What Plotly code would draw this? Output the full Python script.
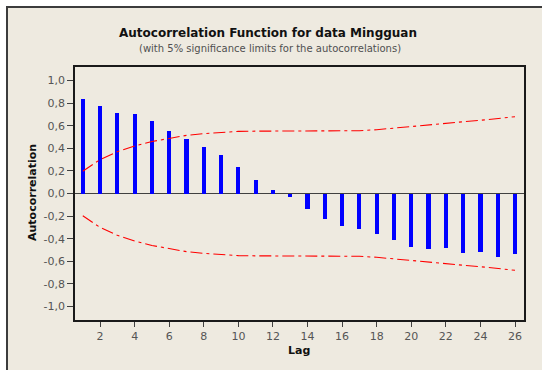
import plotly.graph_objects as go

# ---- data ----
lags = list(range(1, 27))
acf = [0.84, 0.773, 0.717, 0.70, 0.64, 0.549, 0.48, 0.41, 0.345, 0.239, 0.12, 0.03,
       -0.03, -0.133, -0.225, -0.29, -0.316, -0.357, -0.41, -0.475, -0.493, -0.484,
       -0.525, -0.517, -0.56, -0.534]
upper_limit = [0.197, 0.30, 0.37, 0.42, 0.46, 0.49, 0.515, 0.53, 0.54, 0.55, 0.552, 0.553,
               0.553, 0.553, 0.554, 0.555, 0.556, 0.565, 0.58, 0.595, 0.61, 0.625,
               0.635, 0.648, 0.662, 0.68]
lower_limit = [-v for v in upper_limit]

x_tickvals = [2, 4, 6, 8, 10, 12, 14, 16, 18, 20, 22, 24, 26]
y_tickvals = [-1.0, -0.8, -0.6, -0.4, -0.2, 0.0, 0.2, 0.4, 0.6, 0.8, 1.0]
y_ticktext = ["-1,0", "-0,8", "-0,6", "-0,4", "-0,2", "0,0", "0,2", "0,4", "0,6", "0,8", "1,0"]

title_text = "Autocorrelation Function for data Mingguan"
subtitle_text = "(with 5% significance limits for the autocorrelations)"

FONT = "DejaVu Sans"
BG = "#EEEAE0"

fig = go.Figure()
fig.add_trace(go.Bar(x=lags, y=acf, width=0.24, marker=dict(color="#0000FF", line=dict(width=0)),
                     showlegend=False))
dash = "12px,4px,3px,4px"
fig.add_trace(go.Scatter(x=lags, y=upper_limit, mode="lines",
                         line=dict(color="#FF0000", width=1.1, dash=dash), showlegend=False))
fig.add_trace(go.Scatter(x=lags, y=lower_limit, mode="lines",
                         line=dict(color="#FF0000", width=1.1, dash=dash), showlegend=False))

W, H = 542, 370
L, R, T, B = 75, 18, 67, 50
pw, ph = W - L - R, H - T - B


def px(x):
    return (x - L) / pw


def py(y):
    return (H - B - y) / ph


shapes = [
    # outer beige panel with dark border
    dict(type="rect", xref="paper", yref="paper", x0=px(7), x1=px(560), y0=py(7), y1=py(390),
         fillcolor=BG, line=dict(color="#3C3C3C", width=2), layer="below"),
    # zero line
    dict(type="line", xref="paper", yref="y", x0=0, x1=1, y0=0, y1=0,
         line=dict(color="#404040", width=1.2), layer="below"),
]

fig.update_layout(
    width=W, height=H,
    margin=dict(l=L, r=R, t=T, b=B),
    paper_bgcolor="white",
    plot_bgcolor="white",
    shapes=shapes,
    bargap=0,
    annotations=[
        dict(text="<b>" + title_text + "</b>", xref="paper", yref="paper", x=px(268), y=py(33),
             showarrow=False, font=dict(family=FONT, size=12, color="#111111"), xanchor="center",
             yanchor="middle"),
        dict(text=subtitle_text, xref="paper", yref="paper", x=px(270), y=py(48),
             showarrow=False, font=dict(family=FONT, size=10, color="#505050"), xanchor="center",
             yanchor="middle"),
        dict(text="<b>Autocorrelation</b>", xref="paper", yref="paper", x=px(32), y=py(193),
             showarrow=False, textangle=-90, font=dict(family=FONT, size=11, color="#111111"),
             xanchor="center", yanchor="middle"),
        dict(text="<b>Lag</b>", xref="paper", yref="paper", x=px(299), y=py(350),
             showarrow=False, font=dict(family=FONT, size=11, color="#111111"),
             xanchor="center", yanchor="middle"),
    ],
    xaxis=dict(range=[0.55, 26.52], tickvals=x_tickvals, ticks="outside", ticklen=5,
               tickcolor="#404040", showgrid=False, zeroline=False, showline=True,
               linecolor="#1A1A1A", linewidth=1.5, mirror=True,
               tickfont=dict(family=FONT, size=11, color="#555555")),
    yaxis=dict(range=[-1.12, 1.12], tickvals=y_tickvals, ticktext=y_ticktext, ticks="outside",
               ticklen=6, tickcolor="#404040", showgrid=False, zeroline=False, showline=True,
               linecolor="#1A1A1A", linewidth=1.5, mirror=True,
               tickfont=dict(family=FONT, size=11, color="#555555")),
)

fig.write_html("out.html")
